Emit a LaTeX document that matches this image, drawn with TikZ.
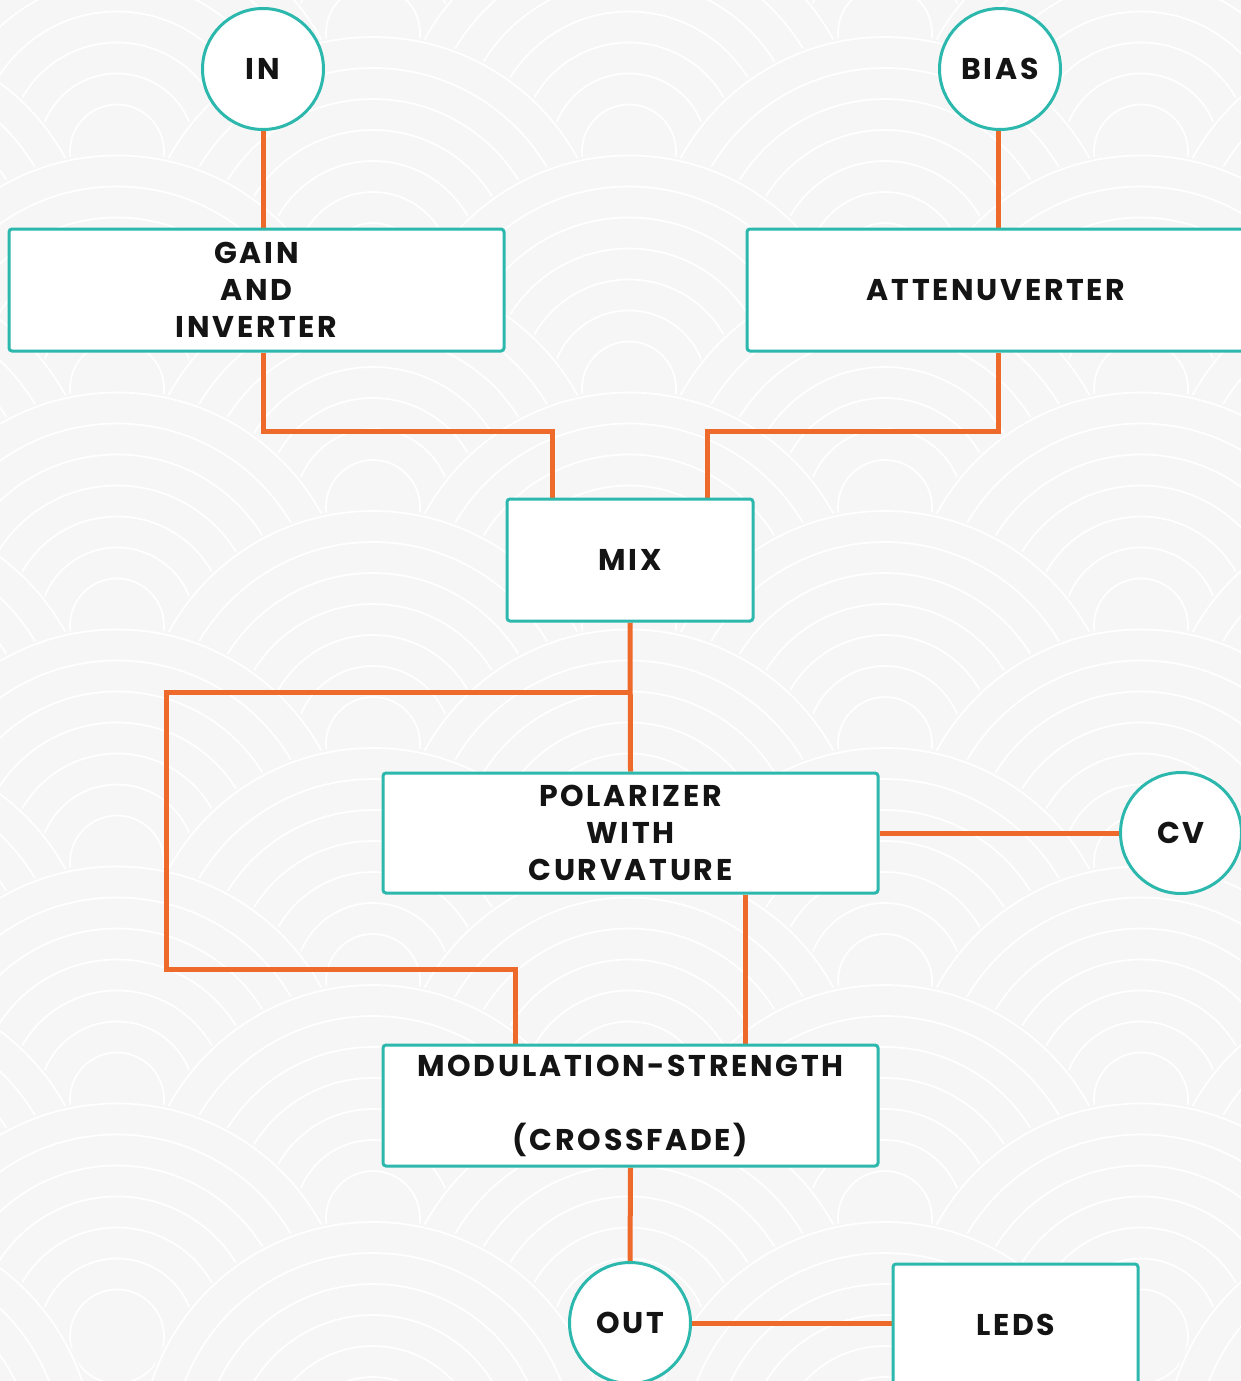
\documentclass[tikz,border=0pt]{standalone}
\usepackage{fontspec}
\newfontfamily\labfont{Poppins}[LetterSpace=9]
\usetikzlibrary{calc}
\definecolor{bgc}{HTML}{F6F6F6}
\definecolor{tealc}{HTML}{2DB8AE}
\definecolor{wirec}{HTML}{EE6A2B}
\definecolor{inkc}{HTML}{141414}
\pgfdeclarelayer{pat}
\pgfdeclarelayer{wires}
\pgfsetlayers{pat,wires,main}
\tikzset{
  lbl/.style={font=\labfont\bfseries\fontsize{30}{37}\selectfont, text=inkc, align=center, inner sep=0pt},
  blk/.style={lbl, draw=tealc, line width=3pt, fill=white, rounded corners=3pt},
  port/.style={lbl, circle, draw=tealc, line width=3pt, fill=white, minimum size=121pt},
  wire/.style={draw=wirec, line width=5pt},
  scale ring/.style={draw=white, line width=1.7pt}
}
\begin{document}
\begin{tikzpicture}[x=1pt,y=-1pt]
\useasboundingbox (0,0) rectangle (1241,1381);
\clip (0,0) rectangle (1241,1381);
% background with seigaiha pattern
\begin{pgfonlayer}{pat}
  \fill[bgc] (0,0) rectangle (1241,1381);
  \foreach \j in {-6,...,8}{
    \foreach \i in {-1,...,3}{
      \pgfmathsetmacro{\cx}{373+\i*512-mod(abs(\j),2)*256}
      \pgfmathsetmacro{\cy}{507+\j*118.5}
      \fill[bgc] (\cx,\cy) circle (236);
      \foreach \r in {233,202,171,140,109,78,47}{
        \draw[scale ring] (\cx,\cy) circle (\r);
      }
    }
  }
\end{pgfonlayer}

% nodes
\node[port] (in) at (263,69) {IN};
\node[port] (bias) at (1000,69) {BIAS};
\node[blk, minimum width=495pt, minimum height=122pt] (gain) at (256.5,290) {GAIN\\AND\\INVERTER};
\node[blk, minimum width=498pt, minimum height=122pt] (att) at (996,290) {ATTENUVERTER};
\node[blk, minimum width=246pt, minimum height=122pt] (mix) at (630,560) {MIX};
\node[blk, minimum width=495pt, minimum height=120pt] (pol) at (630.5,833) {POLARIZER\\WITH\\CURVATURE};
\node[port] (cv) at (1181,833) {CV};
\node[blk, minimum width=495pt, minimum height=121pt] (mod) at (630.5,1105.5) {MODULATION-STRENGTH\\[37pt](CROSSFADE)};
\node[port] (out) at (630,1323) {OUT};
\node[blk, minimum width=245pt, minimum height=122pt] (leds) at (1015.5,1325) {LEDS};

% free ends
\coordinate (mixL) at (552,499);
\coordinate (mixR) at (707,499);
\coordinate (modL) at (515,1045);
\coordinate (modR) at (745,1045);

% connectors
\begin{pgfonlayer}{wires}
  \draw[wire] (in.south) -- (in.south |- gain.north);
  \draw[wire] (bias.south -| 998,0) -- (att.north -| 998,0);
  \draw[wire] (gain.south -| in.south) -- (263,431) -| (mixL);
  \draw[wire] (att.south -| 998,0) -- (998,431) -| (mixR);
  \draw[wire] (mix.south) -- (pol.north);
  \draw[wire] (630,692) -- (166,692) -- (166,969) -| (modL);
  \draw[wire] (pol.east) -- (cv.west);
  \draw[wire] (pol.south -| modR) -- (modR);
  \draw[wire] (mod.south) -- (out.north);
  \draw[wire] (out.east) -- (out.east -| leds.west);
\end{pgfonlayer}
\end{tikzpicture}
\end{document}
